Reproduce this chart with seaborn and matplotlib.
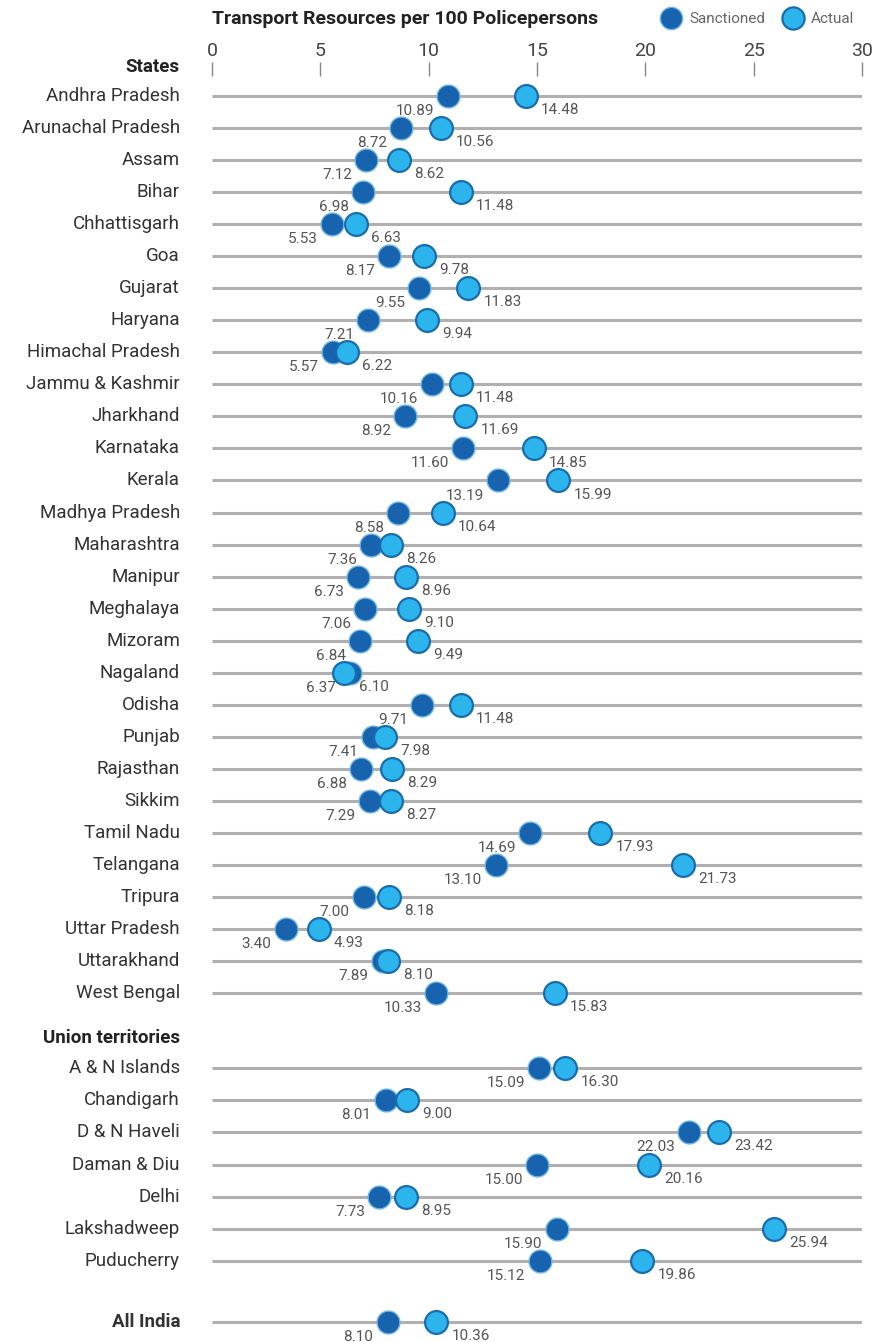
import matplotlib
matplotlib.use("Agg")
import matplotlib.pyplot as plt
import seaborn as sns
import pandas as pd
import numpy as np
from matplotlib.lines import Line2D

states = ["Andhra Pradesh", "Arunachal Pradesh", "Assam", "Bihar", "Chhattisgarh", "Goa",
          "Gujarat", "Haryana", "Himachal Pradesh", "Jammu & Kashmir", "Jharkhand", "Karnataka",
          "Kerala", "Madhya Pradesh", "Maharashtra", "Manipur", "Meghalaya", "Mizoram",
          "Nagaland", "Odisha", "Punjab", "Rajasthan", "Sikkim", "Tamil Nadu", "Telangana",
          "Tripura", "Uttar Pradesh", "Uttarakhand", "West Bengal"]
states_sanctioned = [10.89, 8.72, 7.12, 6.98, 5.53, 8.17, 9.55, 7.21, 5.57, 10.16, 8.92, 11.60,
                     13.19, 8.58, 7.36, 6.73, 7.06, 6.84, 6.37, 9.71, 7.41, 6.88, 7.29, 14.69,
                     13.10, 7.00, 3.40, 7.89, 10.33]
states_actual = [14.48, 10.56, 8.62, 11.48, 6.63, 9.78, 11.83, 9.94, 6.22, 11.48, 11.69, 14.85,
                 15.99, 10.64, 8.26, 8.96, 9.10, 9.49, 6.10, 11.48, 7.98, 8.29, 8.27, 17.93,
                 21.73, 8.18, 4.93, 8.10, 15.83]

uts = ["A & N Islands", "Chandigarh", "D & N Haveli", "Daman & Diu", "Delhi", "Lakshadweep",
       "Puducherry"]
uts_sanctioned = [15.09, 8.01, 22.03, 15.00, 7.73, 15.90, 15.12]
uts_actual = [16.30, 9.00, 23.42, 20.16, 8.95, 25.94, 19.86]

india_label = "All India"
india_sanctioned = 8.10
india_actual = 10.36

x_ticks = [0, 5, 10, 15, 20, 25, 30]

sns.set_theme(style="white")
plt.rcParams["font.family"] = ["Roboto", "DejaVu Sans"]

# layout rows (in row units)
row_px = 32.04
pos_states = list(np.arange(len(states), dtype=float))
ut_header = (1038 - 96) / row_px
pos_uts = [(1068 - 96) / row_px + 1.004 * j for j in range(len(uts))]
pos_india = (1322 - 96) / row_px

names = states + uts + [india_label]
positions = pos_states + pos_uts + [pos_india]
sanc = states_sanctioned + uts_sanctioned + [india_sanctioned]
act = states_actual + uts_actual + [india_actual]

df = pd.DataFrame({
    "name": names * 2,
    "y": positions * 2,
    "value": sanc + act,
    "Type": ["Sanctioned"] * len(names) + ["Actual"] * len(names),
})

W, H = 874, 1342
fig = plt.figure(figsize=(W / 100, H / 100), dpi=100)
top_px, bot_px = 76, 1338
ax = fig.add_axes([212 / W, 1 - bot_px / H, (862 - 212) / W, (bot_px - top_px) / H])

dark = "#1763ad"
light = "#2bb5ec"

for y in positions:
    ax.plot([0, 30], [y, y], color="#b0b0b0", lw=2.2, zorder=1, solid_capstyle="butt")

sub_s = df[df.Type == "Sanctioned"]
sub_a = df[df.Type == "Actual"]
sns.scatterplot(data=sub_s, x="value", y="y", color=dark, s=270, edgecolor="#6fb6e6",
                linewidth=1.0, ax=ax, zorder=3, legend=False)
sns.scatterplot(data=sub_a, x="value", y="y", color=light, s=270, edgecolor="#1a6cb0",
                linewidth=1.6, ax=ax, zorder=4, legend=False)

ax.set_xlim(0, 30)
ax.set_ylim((bot_px - 96) / row_px, (top_px - 96) / row_px)

label_kw = dict(fontsize=11, color="#555555", va="center", zorder=5)
for y, s, a in zip(positions, sanc, act):
    ax.text(s - 0.65, y + 0.47, f"{s:.2f}", ha="right", **label_kw)
    ax.text(a + 0.7, y + 0.44, f"{a:.2f}", ha="left", **label_kw)

# y labels
lx = -32 / (650 / 30)
for name, y in zip(names, positions):
    bold = name == india_label
    ax.text(lx, y, name, ha="right", va="center", fontsize=13.5, color="#333333",
            fontweight="bold" if bold else "normal", clip_on=False)
ax.text(lx, (67 - 96) / row_px, "States", ha="right", va="center", fontsize=13.5,
        fontweight="bold", color="#222222", clip_on=False)
ax.text(lx, ut_header, "Union territories", ha="right", va="center", fontsize=13.5,
        fontweight="bold", color="#222222", clip_on=False)

# x axis on top
ax.xaxis.tick_top()
ax.set_xticks(x_ticks)
ax.set_xticklabels([str(t) for t in x_ticks], fontsize=14, color="#444444")
ax.tick_params(axis="x", top=True, bottom=False, length=10, width=1, color="#888888",
               direction="out", pad=1.5)
ax.set_yticks([])
ax.set_xlabel("")
ax.set_ylabel("")
for sp in ax.spines.values():
    sp.set_visible(False)

# title
fig.text(212 / W, 1 - 19 / H, "Transport Resources per 100 Policepersons", ha="left",
         va="center", fontsize=14, fontweight="bold", color="#222222")

# legend
handles = [
    Line2D([], [], marker="o", ls="", markersize=16, markerfacecolor=dark,
           markeredgecolor="#6fb6e6", markeredgewidth=1.0),
    Line2D([], [], marker="o", ls="", markersize=16, markerfacecolor=light,
           markeredgecolor="#1a6cb0", markeredgewidth=1.6),
]
fig.legend(handles, ["Sanctioned", "Actual"], loc="center right",
           bbox_to_anchor=(868 / W, 1 - 19 / H), ncol=2, frameon=False, fontsize=11,
           handletextpad=0.2, columnspacing=0.8, labelcolor="#666666")

fig.savefig("out.png", dpi=100)
